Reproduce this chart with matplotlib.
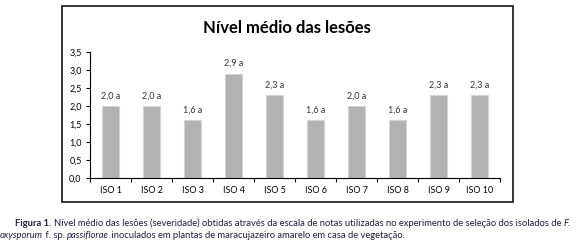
import matplotlib
matplotlib.use("Agg")
import matplotlib.pyplot as plt
from matplotlib.patches import Rectangle

# dados do gráfico
isolados = ["ISO 1", "ISO 2", "ISO 3", "ISO 4", "ISO 5",
            "ISO 6", "ISO 7", "ISO 8", "ISO 9", "ISO 10"]
nivel = [2.0, 2.0, 1.6, 2.9, 2.3, 1.6, 2.0, 1.6, 2.3, 2.3]
letras = ["a"] * 10
yticks = [0.0, 0.5, 1.0, 1.5, 2.0, 2.5, 3.0, 3.5]

plt.rcParams["font.family"] = ["Lato", "DejaVu Sans"]

fig = plt.figure(figsize=(5.77, 2.43), dpi=100)
ax = fig.add_axes([0.156, 0.2675, 0.7106, 0.5185])

x = list(range(len(isolados)))
ax.bar(x, nivel, width=0.4, color="#b2b2b2", edgecolor="#d4d4d4", linewidth=0.8)

for xi, v, l in zip(x, nivel, letras):
    ax.annotate(f"{v:.1f}".replace(".", ",") + " " + l, (xi, v),
                xytext=(0, 4), textcoords="offset points",
                ha="center", va="bottom", fontsize=6.5, color="#333333")

ax.set_xlim(-0.5, len(isolados) - 0.5)
ax.set_ylim(0, 3.5)
ax.set_yticks(yticks)
ax.set_yticklabels([f"{t:.1f}".replace(".", ",") for t in yticks])
ax.set_xticks([i - 0.5 for i in range(len(isolados) + 1)])
ax.set_xticklabels([])
ax.set_xticks(x, minor=True)
ax.set_xticklabels(isolados, minor=True)
ax.tick_params(axis="x", which="minor", length=0, pad=6, labelsize=6.5)
ax.tick_params(axis="x", which="major", length=3, width=0.8, direction="out")
ax.tick_params(axis="y", length=3, width=0.8, labelsize=6.5, pad=3)
for s in ["top", "right"]:
    ax.spines[s].set_visible(False)
for s in ["left", "bottom"]:
    ax.spines[s].set_linewidth(0.8)

# moldura do gráfico
fig.patches.append(Rectangle((0.1075, 0.169), 0.7815, 0.806, transform=fig.transFigure,
                             fill=False, edgecolor="black", linewidth=1.1))
fig.text(0.498, 0.885, "Nível médio das lesões", ha="center", va="center",
         fontsize=12, fontweight="bold")

# legenda da figura
fig.canvas.draw()
r = fig.canvas.get_renderer()

def linha(partes, x0, y0):
    xx = x0
    for txt, st, wt in partes:
        t = fig.text(xx, y0, txt, fontsize=6.75, style=st, weight=wt, va="baseline", color="#221c3c")
        bb = t.get_window_extent(renderer=r)
        xx += bb.width / fig.bbox.width

linha([("Figura 1. ", "normal", "bold"),
       ("Nível médio das lesões (severidade) obtidas através da escala de notas utilizadas no experimento de seleção dos isolados de ",
        "normal", "normal"), ("F.", "italic", "normal")], 0.026, 0.068)
linha([("oxysporum", "italic", "normal"), (" f. sp. ", "normal", "normal"),
       ("passiflorae", "italic", "normal"),
       (" inoculados em plantas de maracujazeiro amarelo em casa de vegetação.", "normal", "normal")],
      0.0, 0.022)

fig.savefig("out.png", dpi=100)
